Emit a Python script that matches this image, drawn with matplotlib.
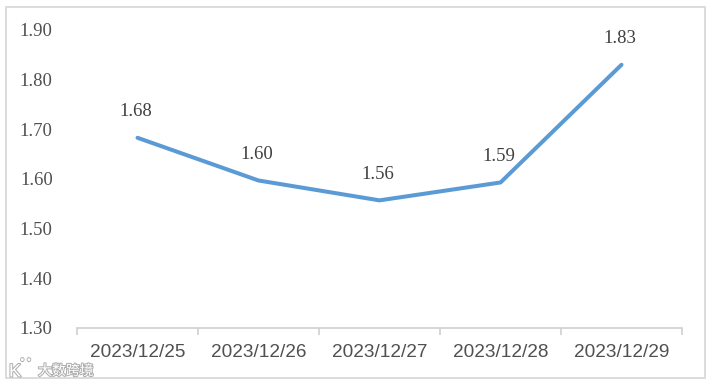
import matplotlib
matplotlib.use('Agg')
import matplotlib.pyplot as plt
import matplotlib.patheffects as pe
from matplotlib.patches import Rectangle

dates = ['2023/12/25', '2023/12/26', '2023/12/27', '2023/12/28', '2023/12/29']
values = [1.683, 1.597, 1.557, 1.593, 1.83]
labels = ['1.68', '1.60', '1.56', '1.59', '1.83']
yticks = [1.30, 1.40, 1.50, 1.60, 1.70, 1.80, 1.90]

plt.rcParams['font.family'] = ['Liberation Serif', 'DejaVu Serif']
W, H = 715, 385
fig = plt.figure(figsize=(W/100, H/100), dpi=100)
ax = fig.add_axes([77/W, 1-328/H, (682-77)/W, (328-30)/H])
x = range(len(dates))
ax.plot(x, values, color='#5B9BD5', lw=2.9, solid_capstyle='round')
for i, (v, s) in enumerate(zip(values, labels)):
    ax.annotate(s, (i, v), xytext=(-1, 12.5), textcoords='offset points', ha='center', va='bottom', fontsize=13.5, color='#404040')
ax.set_xlim(-0.5, 4.5)
ax.set_ylim(1.30, 1.90)
ax.set_yticks(yticks)
ax.set_yticklabels([f'{t:.2f}' for t in yticks], fontsize=13.5, color='#505050')
ax.set_xticks([i - 0.5 for i in range(6)])
ax.set_xticklabels([])
ax.set_xticks(list(x), minor=True)
ax.set_xticklabels(dates, minor=True, fontsize=13.7, color='#505050', family='Liberation Sans')
ax.tick_params(axis='x', which='major', length=5, color='#D0D0D0', direction='out', width=1.2)
ax.tick_params(axis='x', which='minor', length=0, pad=11.5)
ax.tick_params(axis='y', length=0, pad=17.5)
for s in ['top', 'right', 'left']:
    ax.spines[s].set_visible(False)
ax.spines['bottom'].set_color('#D0D0D0')
ax.spines['bottom'].set_linewidth(1.2)
fig.add_artist(Rectangle((6/W, 1-378/H), (705-6)/W, (378-7)/H, transform=fig.transFigure, fill=False, ec='#D9D9D9', lw=1.3))
halo = [pe.withStroke(linewidth=1.5, foreground='#B0B0B0')]
fig.text(38/W, 1-371/H, '大数跨境', fontsize=10, color='white', va='center', family=['Noto Sans CJK SC', 'DejaVu Sans'], path_effects=halo)
fig.text(9/W, 1-372/H, 'K', fontsize=13, color='white', va='center', family='Liberation Sans', path_effects=halo)
fig.text(19/W, 1-365/H, '°°', fontsize=12, color='#B0B0B0', va='center', family='Liberation Sans')
fig.savefig('out.png', dpi=100)
